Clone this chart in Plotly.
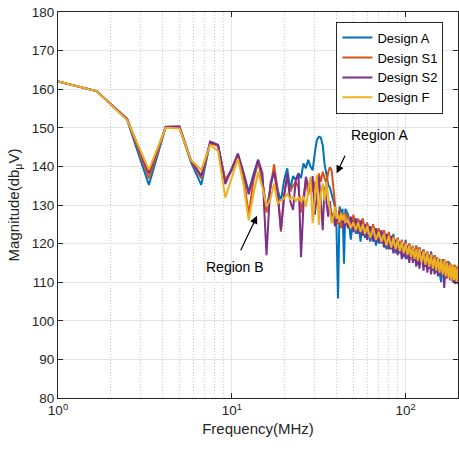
import math
import plotly.graph_objects as go

FREQ = [1.0, 1.667, 2.5, 3.333, 4.167, 5.0, 5.833, 6.667, 7.5, 8.333, 9.167,
        10.0, 10.833, 11.667, 12.5, 13.333, 14.167, 15.0, 15.833, 16.667, 17.5,
        18.333, 19.167, 20.0, 20.833, 21.667, 22.5, 23.333, 24.167, 25.0, 25.833,
        26.667, 27.5, 28.333, 29.167, 30.0, 30.833, 31.667, 32.5, 33.333, 34.167,
        35.0, 35.833, 36.667, 37.5, 38.333, 39.167, 40.0, 40.833, 41.667, 42.5,
        43.333, 44.167, 45.0,
        46.67, 48.33, 50.0, 51.67, 53.33, 55.0, 56.67, 58.33, 60.0,
        62.5, 65.0, 67.5, 70.0, 72.5, 75.0, 77.5, 80.0, 82.5, 85.0, 87.5, 90.0,
        92.5, 95.0, 97.5, 100.0, 102.5, 105.0, 107.5, 110.0, 112.5, 115.0, 117.5, 120.0,
        123.33, 126.67, 130.0, 133.33, 136.67, 140.0, 143.33, 146.67, 150.0, 153.33,
        156.67, 160.0, 163.33, 166.67, 170.0, 173.33, 176.67, 180.0, 183.33, 186.67,
        190.0, 193.33, 196.67, 200.0]

DESIGN_A = [162.0, 159.5, 152.0, 135.2, 150.2, 150.0, 141.0, 135.2, 146.2, 145.5, 136.2,
            139.0, 143.2, 138.5, 133.5, 138.0, 141.7, 136.0, 128.7, 134.5, 139.0,
            134.0, 131.0, 136.5, 139.5, 134.0, 137.5, 136.5, 138.2, 137.0, 140.8,
            139.5, 141.7, 140.0, 139.0, 143.4, 146.8, 147.7, 147.5, 145.5, 140.5,
            138.0, 135.2, 134.5, 133.0, 131.0, 129.6, 124.0, 105.8, 129.6, 127.5,
            129.0, 114.8, 129.0,
            127.5, 121.0, 127.0, 122.5, 126.0, 120.5, 126.5, 121.5, 125.0,
            120.5, 124.5, 119.5, 123.5, 120.0, 123.0, 118.5, 122.0, 118.5, 122.5, 117.5, 121.5,
            117.5, 120.5, 116.5, 121.0, 116.0, 120.0, 116.5, 119.0, 115.5, 119.5, 114.5, 119.0,
            115.0, 118.5, 114.0, 117.5, 113.5, 118.0, 113.0, 117.0, 112.5, 116.5,
            112.5, 110.0, 116.0, 111.5, 115.0, 111.5, 115.5, 110.5, 114.5, 110.5,
            114.5, 110.0, 114.0, 110.5]

DESIGN_S1 = [162.0, 159.5, 152.2, 136.9, 150.2, 150.1, 141.3, 136.9, 146.0, 145.3, 136.5,
             139.3, 143.0, 137.5, 127.5, 136.5, 141.2, 136.5, 128.0, 134.5, 140.5,
             134.0, 123.1, 133.0, 137.3, 133.5, 135.0, 136.0, 134.5, 128.0, 133.0,
             136.5, 132.5, 135.5, 133.5, 136.0, 132.0, 138.2, 136.0, 138.6, 137.0,
             135.5, 138.5, 139.8, 139.0, 134.3, 130.0, 126.5, 125.0, 129.0, 124.0,
             127.5, 124.5, 128.0,
             126.5, 124.0, 127.5, 123.5, 126.5, 123.0, 126.5, 122.5, 125.5,
             122.0, 125.0, 121.5, 124.0, 120.5, 123.5, 120.5, 123.0, 119.0, 122.0, 118.5, 121.5,
             118.0, 121.0, 117.5, 120.5, 117.0, 120.0, 116.5, 119.5, 116.0, 119.5, 115.5, 119.0,
             115.5, 118.5, 114.5, 118.0, 114.5, 117.5, 114.0, 117.0, 113.5, 116.5,
             113.0, 116.0, 112.5, 116.0, 111.0, 115.5, 112.0, 115.0, 111.5, 114.5,
             111.0, 114.5, 110.5, 114.0]

DESIGN_S2 = [162.0, 159.5, 152.3, 138.2, 150.3, 150.4, 141.5, 137.6, 146.4, 145.6, 135.4,
             139.5, 143.3, 138.5, 132.8, 137.5, 141.7, 138.2, 117.0, 135.5, 138.6,
             133.0, 123.5, 132.2, 138.2, 131.0, 128.7, 136.5, 138.2, 116.5, 130.0,
             137.3, 135.0, 133.9, 137.5, 127.5, 133.0, 137.3, 131.0, 123.5, 134.7,
             130.0, 127.0, 131.0, 126.0, 128.0, 124.5, 127.0, 126.0, 128.5, 125.5,
             127.5, 124.0, 126.5,
             124.0, 127.0, 123.0, 126.5, 122.5, 126.0, 122.0, 125.0, 121.0,
             124.5, 120.5, 124.0, 120.0, 123.5, 119.0, 122.5, 118.5, 122.0, 117.5, 121.0, 117.0,
             120.5, 116.0, 120.0, 116.0, 119.5, 115.0, 119.0, 115.0, 118.5, 114.0, 118.0, 113.5,
             118.0, 113.0, 117.5, 112.5, 117.0, 112.0, 116.5, 112.0, 116.5, 111.5,
             116.0, 112.0, 115.5, 108.5, 115.0, 111.0, 114.5, 110.5, 114.0, 110.0,
             113.5, 109.5, 113.0, 109.5]

DESIGN_F = [162.0, 159.5, 152.0, 139.1, 150.0, 149.8, 141.6, 139.1, 145.5, 144.0, 131.9,
            137.0, 142.0, 135.5, 126.0, 133.0, 138.5, 134.5, 129.6, 131.5, 135.6,
            130.4, 131.3, 131.7, 132.8, 131.5, 132.2, 131.0, 132.0, 130.9, 132.3,
            129.6, 133.5, 137.3, 125.3, 131.5, 137.8, 124.8, 133.0, 135.6, 131.0,
            136.0, 131.3, 128.5, 125.3, 127.0, 129.5, 126.5, 127.5, 125.5, 128.0,
            126.0, 127.5, 125.5,
            126.0, 124.0, 125.5, 123.5, 125.5, 123.0, 125.0, 122.5, 124.5,
            121.5, 124.0, 121.0, 123.0, 120.5, 122.5, 119.5, 122.0, 119.0, 121.5, 118.5, 121.0,
            118.0, 120.5, 117.5, 120.0, 117.0, 119.5, 116.5, 119.0, 116.0, 118.5, 115.5, 118.5,
            115.0, 118.0, 114.5, 117.5, 114.0, 117.0, 113.5, 116.5, 113.0, 116.5,
            112.5, 116.0, 112.0, 115.5, 111.5, 115.0, 111.0, 114.5, 110.5, 114.5,
            110.5, 114.0, 110.0, 113.5]

SERIES = [("Design A", DESIGN_A, "#0072BD"),
          ("Design S1", DESIGN_S1, "#D95319"),
          ("Design S2", DESIGN_S2, "#7E2F8E"),
          ("Design F", DESIGN_F, "#EDB120")]

X_TICKS = [1, 10, 100]
X_TICK_TEXT = ["10<sup>0</sup>", "10<sup>1</sup>", "10<sup>2</sup>"]
X_MINOR = [2, 3, 4, 5, 6, 7, 8, 9, 20, 30, 40, 50, 60, 70, 80, 90, 200]
Y_TICKS = [80, 90, 100, 110, 120, 130, 140, 150, 160, 170, 180]

FONT = "Liberation Sans, Arial, sans-serif"
AX = "#262626"

fig = go.Figure()
for name, vals, color in SERIES:
    fig.add_trace(go.Scatter(x=FREQ, y=vals, mode="lines", name=name,
                             line=dict(color=color, width=2)))

axis_common = dict(showline=True, linecolor=AX, linewidth=1, mirror="ticks",
                   ticks="inside", ticklen=5, tickcolor=AX, tickwidth=1,
                   zeroline=False, gridcolor="#e4e4e4", gridwidth=1,
                   tickfont=dict(family=FONT, size=13.5, color=AX))

fig.update_layout(
    width=459, height=452,
    margin=dict(l=58, r=1, t=12, b=54),
    paper_bgcolor="white", plot_bgcolor="white",
    font=dict(family=FONT, color=AX),
    xaxis=dict(type="log", range=[0, math.log10(200)],
               tickvals=X_TICKS, ticktext=X_TICK_TEXT,
               minor=dict(tickvals=X_MINOR, showgrid=True, griddash="1px,2px",
                          gridcolor="#cdcdcd", ticks=""),
               title=dict(text="Frequency(MHz)", font=dict(family=FONT, size=15, color=AX),
                          standoff=6),
               **axis_common),
    yaxis=dict(range=[80, 180], tickvals=Y_TICKS,
               title=dict(text="Magnitude(db<sub>μ</sub>V)",
                          font=dict(family=FONT, size=15, color=AX), standoff=8),
               **axis_common),
    legend=dict(x=0.696, y=0.975, xanchor="left", yanchor="top",
                bgcolor="white", bordercolor=AX, borderwidth=1,
                font=dict(family=FONT, size=13, color="black"),
                tracegroupgap=0),
    showlegend=True,
)

# Region annotations
fig.add_annotation(x=math.log10(40.1), y=138.2, ax=9, ay=-19, text="",
                   showarrow=True, arrowhead=2, arrowsize=1.3, arrowwidth=1.2,
                   arrowcolor="black", standoff=0)
fig.add_annotation(x=math.log10(70.5), y=148.1, text="Region A", showarrow=False,
                   font=dict(family=FONT, size=14, color="black"))
fig.add_annotation(x=math.log10(13.96), y=127.2, ax=-17, ay=36, text="",
                   showarrow=True, arrowhead=2, arrowsize=1.3, arrowwidth=1.2,
                   arrowcolor="black", standoff=0)
fig.add_annotation(x=math.log10(10.47), y=113.9, text="Region B", showarrow=False,
                   font=dict(family=FONT, size=14, color="black"))

fig.write_html("out.html")
